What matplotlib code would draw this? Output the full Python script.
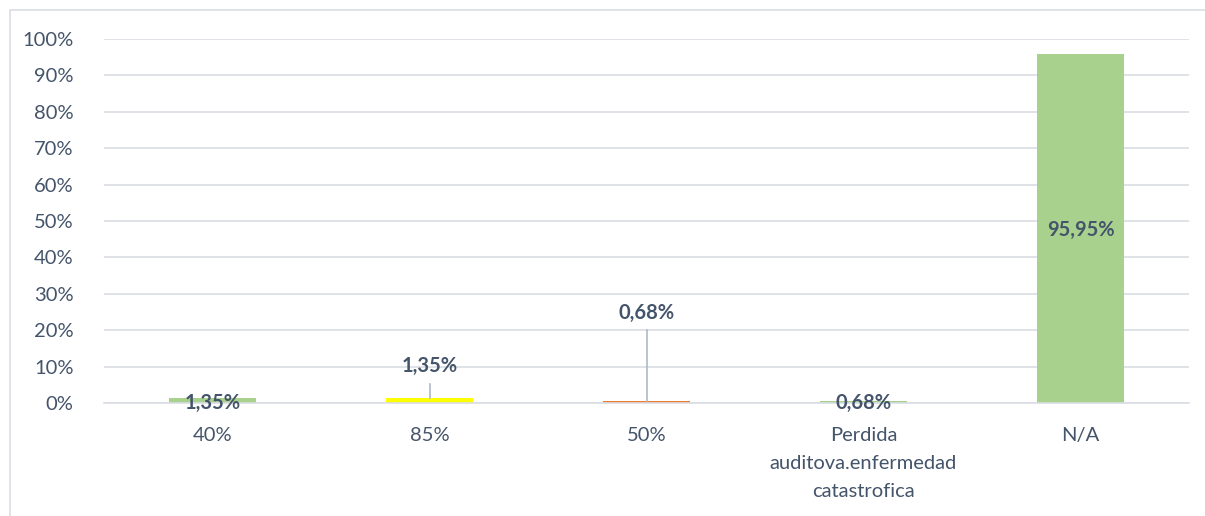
import matplotlib.pyplot as plt
from matplotlib.patches import Rectangle

categorias = ['40%', '85%', '50%', 'Perdida\nauditova.enfermedad\ncatastrofica', 'N/A']
valores = [1.35, 1.35, 0.68, 0.68, 95.95]
etiquetas = ['1,35%', '1,35%', '0,68%', '0,68%', '95,95%']
colores = ['#A9D18E', '#FFFF00', '#ED7D31', '#A9D18E', '#A9D18E']

plt.rcParams['font.family'] = ['Lato', 'DejaVu Sans']

fig = plt.figure(figsize=(12.05, 5.16), dpi=100)
ax = fig.add_axes([104 / 1205, 1 - 403 / 516, (1189 - 104) / 1205, 364 / 516])

x = range(len(categorias))
ax.bar(x, valores, width=0.4, color=colores, zorder=2)

ax.set_xlim(-0.5, len(categorias) - 0.5)
ax.set_ylim(0, 100)
ax.set_yticks(range(0, 101, 10))
ax.set_yticklabels([f'{v}%' for v in range(0, 101, 10)])
ax.set_xticks(list(x))
ax.set_xticklabels(categorias, linespacing=1.8)
ax.grid(axis='y', color='#D9DDE3', linewidth=1.2, zorder=0)
for s in ['top', 'right', 'left']:
    ax.spines[s].set_visible(False)
ax.spines['bottom'].set_color('#D9DDE3')
ax.spines['bottom'].set_linewidth(1.2)
ax.tick_params(axis='both', length=0, labelsize=14.5, colors='#44546A')
ax.tick_params(axis='x', pad=17)
ax.tick_params(axis='y', pad=22)

# etiquetas de datos (algunas desplazadas con linea guia, como en Excel)
pos_y = [0, 10.2, 24.7, 0, 47.5]
guias = [None, (valores[1], 5.2), (valores[2], 20.0), None, None]
for i, (v, lab) in enumerate(zip(valores, etiquetas)):
    ax.text(i, pos_y[i], lab, ha='center', va='center', fontsize=14.5,
            fontweight='bold', color='#44546A', zorder=4)
    if guias[i] is not None:
        ax.plot([i, i], guias[i], color='#ADB9CA', linewidth=1.2, zorder=3)

# marco del grafico
fig.patches.append(Rectangle((10 / 1205, -0.05), 1.1, 1 - 10 / 516 + 0.05,
                             transform=fig.transFigure, fill=False,
                             edgecolor='#D9DDE3', linewidth=1.2))

fig.savefig('out.png', dpi=100)
